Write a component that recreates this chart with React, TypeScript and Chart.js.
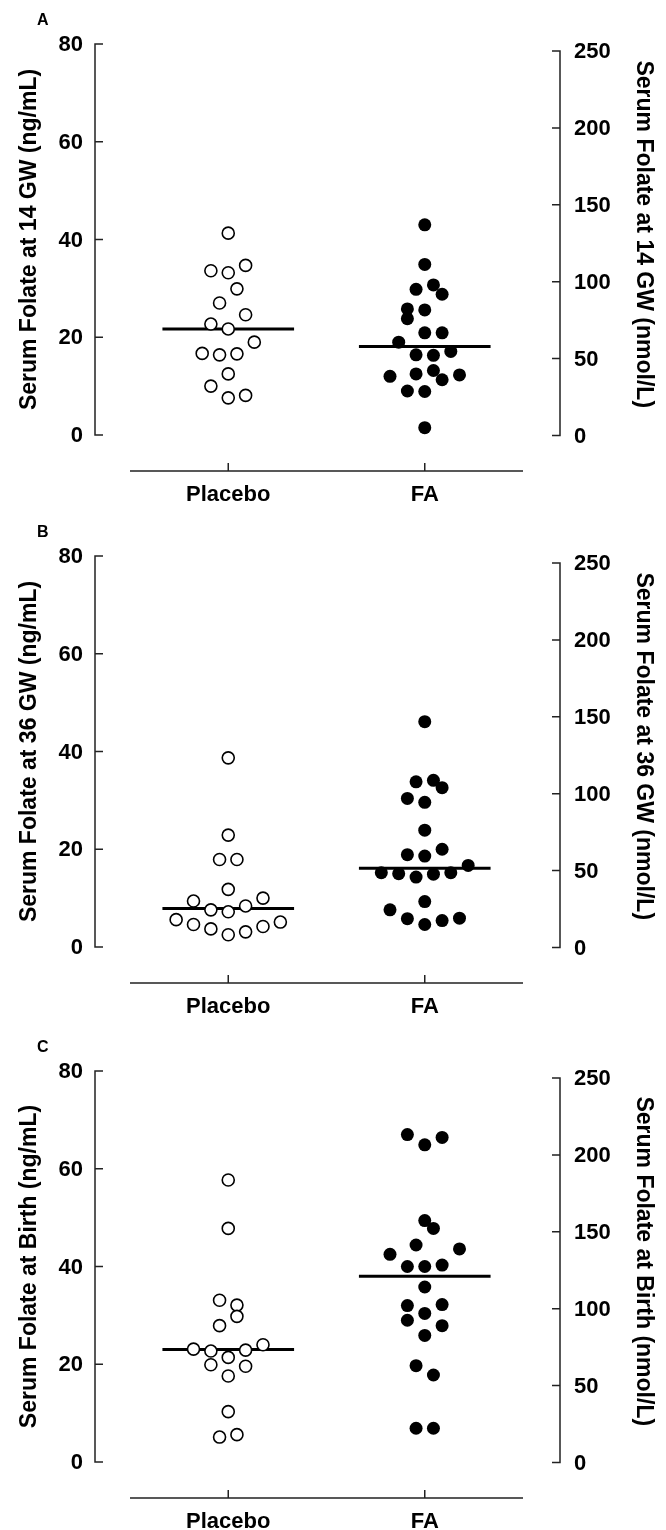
import React, { useEffect, useRef } from "react";
import { Chart, registerables } from "chart.js";

Chart.register(...registerables);

// ---------------- data ----------------
const categories = ["Placebo", "FA"];
const leftTicks = [0, 20, 40, 60, 80];
const rightTicks = [0, 50, 100, 150, 200, 250];
const panelLetters = ["A", "B", "C"];
const timepoints = ["14 GW", "36 GW", "Birth"];

// Panel A (14 GW), ng/mL; offsets = horizontal jitter slot of each dot
const placeboA = [41.3, 33.6, 33.2, 34.7, 29.9, 27.0, 24.6, 22.7, 21.7, 19.0, 16.7, 16.4, 16.6, 12.5, 10.0, 7.6, 8.1];
const placeboAOffset = [0, -2, 0, 2, 1, -1, 2, -2, 0, 3, -3, -1, 1, 0, -2, 0, 2];
const faA = [43.0, 34.9, 29.8, 30.7, 28.8, 25.8, 25.6, 23.8, 20.9, 20.9, 19.0, 17.1, 16.4, 16.3, 12.0, 12.5, 13.2, 11.3, 12.3, 9.0, 8.9, 1.5];
const faAOffset = [0, 0, -1, 1, 2, -2, 0, -2, 0, 2, -3, 3, -1, 1, -4, -1, 1, 2, 4, -2, 0, 0];
const medianA = [21.7, 18.1];

// Panel B (36 GW)
const placeboB = [38.7, 22.9, 17.9, 17.9, 11.8, 9.4, 10.0, 7.6, 7.2, 8.4, 5.6, 4.6, 3.7, 2.5, 3.1, 4.2, 5.1];
const placeboBOffset = [0, 0, -1, 1, 0, -4, 4, -2, 0, 2, -6, -4, -2, 0, 2, 4, 6];
const faB = [46.1, 33.8, 34.1, 32.6, 30.4, 29.6, 23.9, 18.9, 18.6, 20.0, 16.7, 15.2, 15.0, 14.3, 14.9, 15.2, 9.3, 7.6, 5.8, 4.6, 5.4, 5.9];
const faBOffset = [0, -1, 1, 2, -2, 0, 0, -2, 0, 2, 5, -5, -3, -1, 1, 3, 0, -4, -2, 0, 2, 4];
const medianB = [7.9, 16.1];

// Panel C (Birth)
const placeboC = [57.7, 47.8, 33.1, 32.1, 29.8, 27.9, 23.1, 22.7, 22.9, 24.0, 21.4, 19.9, 19.6, 17.6, 10.3, 5.1, 5.6];
const placeboCOffset = [0, 0, -1, 1, 1, -1, -4, -2, 2, 4, 0, -2, 2, 0, 0, -1, 1];
const faC = [67.0, 64.9, 66.4, 49.4, 47.8, 44.4, 42.5, 43.6, 40.0, 40.0, 40.3, 35.8, 32.0, 32.2, 30.4, 29.0, 27.9, 25.9, 19.7, 17.8, 6.9, 6.9];
const faCOffset = [-2, 0, 2, 0, 1, -1, -4, 4, -2, 0, 2, 0, -2, 2, 0, -2, 2, 0, -1, 1, -1, 1];
const medianC = [23.0, 38.0];

// ---------------- style / layout ----------------
const FONT = '"Liberation Sans", Arial, Helvetica, sans-serif';
const JITTER = 0.0442; // x-units per jitter slot
const MEDIAN_HALF = 0.335;
const PANEL_TOPS = [0, 512, 1027];
const PANEL_HEIGHTS = [512, 515, 503];
const AREA = { left: 130, right: 523, top: 44, bottom: 471 };

const axesPlugin = {
  id: "folateAxes",
  afterDatasetsDraw(chart: any, _args: any, opts: any) {
    const { ctx, chartArea: ca, scales } = chart;
    const x = scales.x, y = scales.y, y1 = scales.y1;
    ctx.save();
    ctx.strokeStyle = "#222";
    ctx.fillStyle = "#000";
    ctx.lineWidth = 1.5;
    ctx.lineCap = "butt";

    // left axis
    const lx = ca.left - 35;
    ctx.beginPath();
    ctx.moveTo(lx, y.getPixelForValue(leftTicks[0]) + 0.75);
    ctx.lineTo(lx, y.getPixelForValue(leftTicks[leftTicks.length - 1]) - 0.75);
    leftTicks.forEach((t) => {
      const py = y.getPixelForValue(t);
      ctx.moveTo(lx, py);
      ctx.lineTo(lx + 8, py);
    });
    ctx.stroke();
    ctx.font = `bold 22px ${FONT}`;
    ctx.textAlign = "right";
    ctx.textBaseline = "middle";
    leftTicks.forEach((t) => ctx.fillText(String(t), lx - 12, y.getPixelForValue(t) + 1));

    // right axis
    const rx = ca.right + 37;
    ctx.beginPath();
    ctx.moveTo(rx, y1.getPixelForValue(rightTicks[0]) + 0.75);
    ctx.lineTo(rx, y1.getPixelForValue(rightTicks[rightTicks.length - 1]) - 0.75);
    rightTicks.forEach((t) => {
      const py = y1.getPixelForValue(t);
      ctx.moveTo(rx, py);
      ctx.lineTo(rx - 8, py);
    });
    ctx.stroke();
    ctx.textAlign = "left";
    rightTicks.forEach((t) => ctx.fillText(String(t), rx + 14, y1.getPixelForValue(t) + 1));

    // x axis
    ctx.beginPath();
    ctx.moveTo(ca.left, ca.bottom);
    ctx.lineTo(ca.right, ca.bottom);
    categories.forEach((_c, i) => {
      const px = x.getPixelForValue(i + 1);
      ctx.moveTo(px, ca.bottom);
      ctx.lineTo(px, ca.bottom - 8);
    });
    ctx.stroke();
    ctx.textAlign = "center";
    ctx.textBaseline = "alphabetic";
    categories.forEach((c, i) => ctx.fillText(c, x.getPixelForValue(i + 1), ca.bottom + 30));

    // axis titles
    ctx.font = `bold 23px ${FONT}`;
    const cy = (y.getPixelForValue(0) + y.getPixelForValue(80)) / 2;
    ctx.save();
    ctx.translate(36, cy);
    ctx.rotate(-Math.PI / 2);
    ctx.fillText(`Serum Folate at ${opts.timepoint} (ng/mL)`, 0, 0);
    ctx.restore();

    const cy1 = (y1.getPixelForValue(0) + y1.getPixelForValue(250)) / 2 - 9;
    ctx.save();
    ctx.translate(637, cy1);
    ctx.rotate(Math.PI / 2);
    ctx.fillText(`Serum Folate at ${opts.timepoint} (nmol/L)`, 0, 0);
    ctx.restore();

    // panel letter
    ctx.font = `bold 16px ${FONT}`;
    ctx.textAlign = "left";
    ctx.fillText(opts.letter, 37, 25);
    ctx.restore();
  },
};

type PanelProps = {
  index: number;
  placebo: number[];
  placeboOffset: number[];
  fa: number[];
  faOffset: number[];
  median: number[];
};

function Panel({ index, placebo, placeboOffset, fa, faOffset, median }: PanelProps) {
  const ref = useRef<HTMLCanvasElement | null>(null);
  const H = PANEL_HEIGHTS[index];
  useEffect(() => {
    if (!ref.current) return;
    const pts = (vals: number[], offs: number[], g: number) =>
      vals.map((v, i) => ({ x: g + offs[i] * JITTER, y: v }));
    const chart = new Chart(ref.current, {
      type: "scatter",
      data: {
        datasets: [
          {
            label: "Placebo",
            data: pts(placebo, placeboOffset, 1),
            pointRadius: 6,
            pointBackgroundColor: "#ffffff",
            pointBorderColor: "#000000",
            pointBorderWidth: 1.6,
            order: 1,
          } as any,
          {
            label: "FA",
            data: pts(fa, faOffset, 2),
            pointRadius: 6.5,
            pointBackgroundColor: "#000000",
            pointBorderColor: "#000000",
            pointBorderWidth: 0,
            order: 1,
          } as any,
          {
            label: "Placebo median",
            data: [
              { x: 1 - MEDIAN_HALF, y: median[0] },
              { x: 1 + MEDIAN_HALF, y: median[0] },
            ],
            showLine: true,
            borderColor: "#000000",
            borderWidth: 3,
            pointRadius: 0,
            order: 2,
          } as any,
          {
            label: "FA median",
            data: [
              { x: 2 - MEDIAN_HALF, y: median[1] },
              { x: 2 + MEDIAN_HALF, y: median[1] },
            ],
            showLine: true,
            borderColor: "#000000",
            borderWidth: 3,
            pointRadius: 0,
            order: 2,
          } as any,
        ],
      },
      options: {
        responsive: false,
        animation: false,
        events: [],
        layout: {
          padding: { left: AREA.left, right: 666 - AREA.right, top: AREA.top, bottom: H - AREA.bottom },
        },
        plugins: {
          legend: { display: false },
          tooltip: { enabled: false },
          folateAxes: { letter: panelLetters[index], timepoint: timepoints[index] },
        } as any,
        scales: {
          x: { type: "linear", display: false, min: 0.5, max: 2.5 },
          y: { type: "linear", display: false, min: -7.366, max: 80 },
          y1: { type: "linear", display: false, position: "right", min: -23.08, max: 254.55 },
        },
      },
      plugins: [axesPlugin],
    });
    return () => chart.destroy();
  }, []);
  return (
    <canvas
      ref={ref}
      width={666}
      height={H}
      style={{ position: "absolute", left: 0, top: PANEL_TOPS[index], width: 666, height: H, display: "block" }}
    />
  );
}

export default function App() {
  return (
    <div style={{ position: "relative", width: 666, height: 1530, overflow: "hidden", background: "#fff" }}>
      <style>{"html,body{margin:0;padding:0;background:#fff;}"}</style>
      <Panel index={0} placebo={placeboA} placeboOffset={placeboAOffset} fa={faA} faOffset={faAOffset} median={medianA} />
      <Panel index={1} placebo={placeboB} placeboOffset={placeboBOffset} fa={faB} faOffset={faBOffset} median={medianB} />
      <Panel index={2} placebo={placeboC} placeboOffset={placeboCOffset} fa={faC} faOffset={faCOffset} median={medianC} />
    </div>
  );
}
